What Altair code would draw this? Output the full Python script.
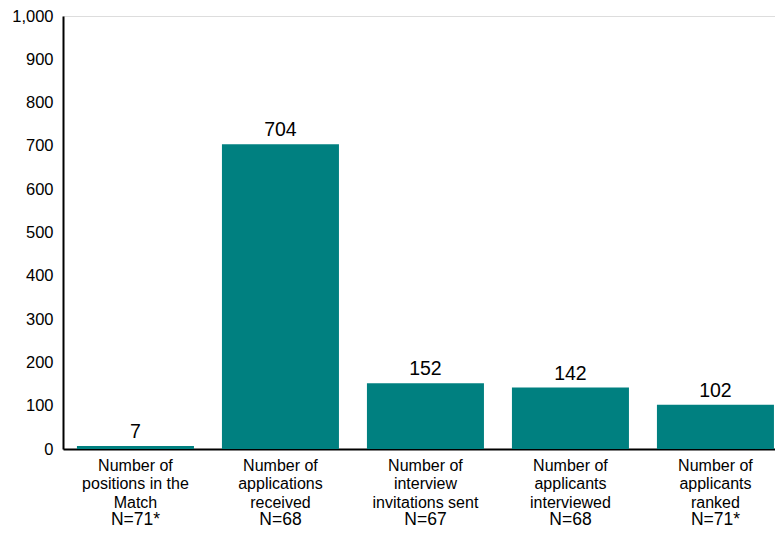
import altair as alt
import pandas as pd

categories = [
    "Number of|positions in the|Match",
    "Number of|applications|received",
    "Number of|interview|invitations sent",
    "Number of|applicants|interviewed",
    "Number of|applicants|ranked",
]
values = [7, 704, 152, 142, 102]
n_labels = ["N=71*", "N=68", "N=67", "N=68", "N=71*"]
y_ticks = [0, 100, 200, 300, 400, 500, 600, 700, 800, 900, 1000]

df = pd.DataFrame({"cat": categories, "value": values, "n": n_labels})

FONT = "Liberation Sans, Arial, sans-serif"
H = 433
W = 712

x_enc = alt.X(
    "cat:N",
    sort=None,
    scale=alt.Scale(paddingInner=0.193, paddingOuter=0.0517, align=0.93),
    axis=alt.Axis(
        title=None,
        labelAngle=0,
        labelExpr="split(datum.label, '|')",
        labelFont=FONT,
        labelFontSize=16,
        labelLineHeight=18.5,
        labelColor="#000000",
        labelPadding=8,
        ticks=False,
        domainColor="#000000",
        domainWidth=2,
        labelLimit=200,
    ),
)

bars = alt.Chart(df).mark_bar(color="#008080").encode(
    x=x_enc,
    y=alt.Y(
        "value:Q",
        scale=alt.Scale(domain=[0, 1000], nice=False),
        axis=alt.Axis(
            title=None,
            values=y_ticks,
            labelExpr="format(datum.value, ',.0f')",
            grid=False,
            ticks=False,
            labelFont=FONT,
            labelFontSize=16.5,
            labelColor="#000000",
            labelPadding=10,
            domainColor="#000000",
            domainWidth=2,
        ),
    ),
)

value_text = alt.Chart(df).mark_text(
    font=FONT, fontSize=19.5, color="#000000", baseline="alphabetic", dy=-8
).encode(x=alt.X("cat:N", sort=None), y="value:Q", text="value:Q")

n_text = alt.Chart(df).mark_text(
    font=FONT, fontSize=17.5, color="#000000", baseline="alphabetic"
).encode(x=alt.X("cat:N", sort=None), y=alt.value(H + 76), text="n:N")

chart = (
    alt.layer(bars, value_text, n_text)
    .properties(
        width=W,
        height=H,
        autosize=alt.AutoSizeParams(type="none"),
        padding={"left": 55, "top": 8, "right": 0, "bottom": 80},
    )
    .configure_view(stroke=None)
    .configure(background="white")
)

chart.save("out.html", embed_options={"renderer": "svg", "actions": False})
